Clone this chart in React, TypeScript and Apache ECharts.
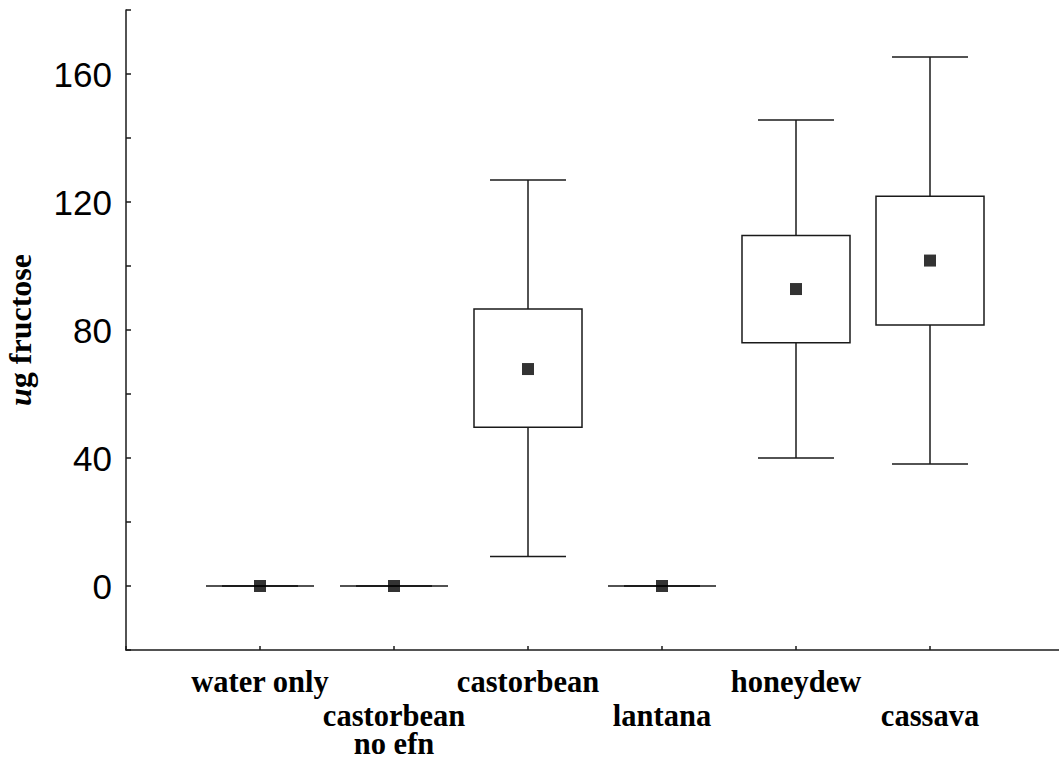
import React, { useEffect, useRef } from "react";
import * as echarts from "echarts";

const categories = ["water only", "castorbean\nno efn", "castorbean", "lantana", "honeydew", "cassava"];
const whiskerLow = [0, 0, 9.2, 0, 40, 38.1];
const boxLow = [0, 0, 49.6, 0, 76, 81.6];
const boxHigh = [0, 0, 86.6, 0, 109.5, 121.8];
const whiskerHigh = [0, 0, 126.9, 0, 145.6, 165.3];
const means = [0, 0, 67.8, 0, 92.8, 101.7];
const yTickLabels = [0, 40, 80, 120, 160];

const INK = "#1a1a1a";

export default function App() {
  const ref = useRef<HTMLDivElement>(null);
  useEffect(() => {
    document.body.style.margin = "0";
    const chart = echarts.init(ref.current!, null, { renderer: "svg" });
    const boxData = categories.map((_, i) => [i + 1, whiskerLow[i], boxLow[i], boxHigh[i], whiskerHigh[i]]);
    const meanData = categories.map((_, i) => [i + 1, means[i]]);
    chart.setOption({
      animation: false,
      backgroundColor: "#fff",
      grid: { left: 126, top: 10, width: 938, height: 640, outerBoundsMode: "none", containLabel: false },
      xAxis: {
        type: "value",
        min: 0,
        max: 7,
        interval: 1,
        splitLine: { show: false },
        axisLine: { onZero: false, lineStyle: { color: INK, width: 1.5 } },
        axisTick: { inside: true, length: 4, lineStyle: { color: INK, width: 1.5 } },
        axisLabel: {
          margin: 18,
          showMinLabel: true,
          showMaxLabel: true,
          formatter: (v: number) => {
            const i = Math.round(v) - 1;
            if (i < 0 || i >= categories.length) return "";
            const lines = categories[i].split("\n").map((s) => `{t|${s}}`).join("\n");
            return i % 2 === 1 ? `{sp|\u00a0}\n${lines}` : lines;
          },
          rich: {
            t: { fontFamily: "Liberation Serif", fontWeight: "bold", fontSize: 30.5, lineHeight: 28, color: "#000" },
            sp: { fontSize: 2, lineHeight: 34 },
          },
        },
      },
      yAxis: {
        type: "value",
        min: -20,
        max: 180,
        interval: 20,
        splitLine: { show: false },
        axisLine: { show: true, onZero: false, lineStyle: { color: INK, width: 1.5 } },
        axisTick: { show: true, inside: true, length: 5, lineStyle: { color: INK, width: 1.5 } },
        axisLabel: {
          margin: 14,
          fontFamily: "Liberation Sans",
          fontSize: 35,
          color: "#000",
          formatter: (v: number) => (yTickLabels.includes(v) ? String(v) : ""),
        },
        name: "{i|u}{b|g fructose}",
        nameLocation: "middle",
        nameGap: 90,
        nameTextStyle: {
          rich: {
            i: { fontFamily: "Liberation Serif", fontWeight: "bold", fontStyle: "italic", fontSize: 32, color: "#000" },
            b: { fontFamily: "Liberation Serif", fontWeight: "bold", fontSize: 32, color: "#000" },
          },
        },
      },
      series: [
        {
          type: "custom",
          data: boxData,
          renderItem: (params: any, api: any) => {
            const x = api.value(0);
            const lo = api.value(1);
            const q1 = api.value(2);
            const q3 = api.value(3);
            const hi = api.value(4);
            const unit = api.size([1, 0])[0];
            const bw = unit * 0.806;
            const cw = unit * 0.567;
            const [cx, yLo] = api.coord([x, lo]);
            const yQ1 = api.coord([x, q1])[1];
            const yQ3 = api.coord([x, q3])[1];
            const yHi = api.coord([x, hi])[1];
            const ls = { stroke: INK, lineWidth: 1.5, fill: null };
            return {
              type: "group",
              children: [
                { type: "line", shape: { x1: cx, y1: yHi, x2: cx, y2: yQ3 }, style: ls },
                { type: "line", shape: { x1: cx, y1: yQ1, x2: cx, y2: yLo }, style: ls },
                { type: "line", shape: { x1: cx - cw / 2, y1: yHi, x2: cx + cw / 2, y2: yHi }, style: ls },
                { type: "line", shape: { x1: cx - cw / 2, y1: yLo, x2: cx + cw / 2, y2: yLo }, style: ls },
                {
                  type: "rect",
                  shape: { x: cx - bw / 2, y: yQ3, width: bw, height: yQ1 - yQ3 },
                  style: { stroke: INK, lineWidth: 1.5, fill: "#fff" },
                },
              ],
            };
          },
          z: 2,
        },
        {
          type: "scatter",
          data: meanData,
          symbol: "rect",
          symbolSize: 12,
          itemStyle: { color: "#000" },
          z: 3,
        },
      ],
    });
    return () => chart.dispose();
  }, []);
  return <div ref={ref} style={{ width: 1059, height: 762 }} />;
}
